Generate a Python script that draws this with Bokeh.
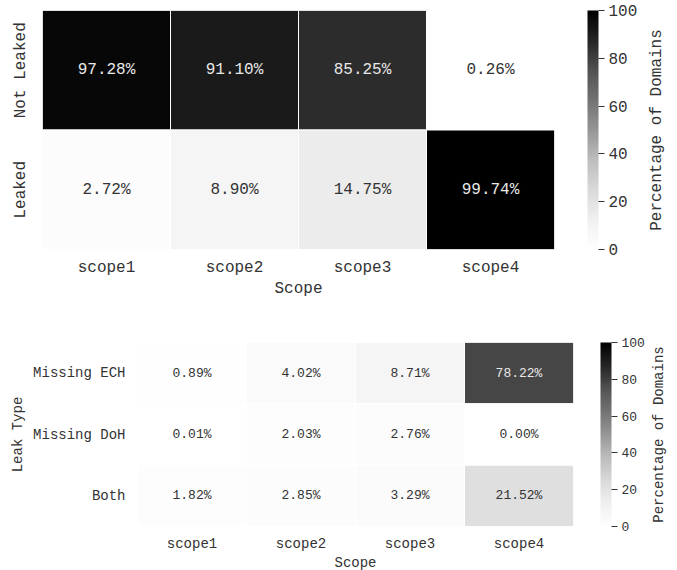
from bokeh.plotting import figure
from bokeh.models import (ColumnDataSource, LinearColorMapper, ColorBar,
                          FactorRange, FixedTicker, Range1d)
from bokeh.layouts import column, row
from bokeh.transform import transform
from bokeh.core.properties import value
from bokeh.embed import file_html
from bokeh.resources import INLINE

# ---------------- data ----------------
scopes = ["scope1", "scope2", "scope3", "scope4"]

top_rows = ["Not Leaked", "Leaked"]
not_leaked = [97.28, 91.10, 85.25, 0.26]
leaked = [2.72, 8.90, 14.75, 99.74]

bottom_rows = ["Missing ECH", "Missing DoH", "Both"]
missing_ech = [0.89, 4.02, 8.71, 78.22]
missing_doh = [0.01, 2.03, 2.76, 0.00]
both = [1.82, 2.85, 3.29, 21.52]

cbar_ticks = [0, 20, 40, 60, 80, 100]
cbar_title = "Percentage of Domains"
x_title = "Scope"
bottom_y_title = "Leak Type"

FONT = "Liberation Mono"
TXT = "#333333"

# matplotlib "Greys" colormap anchors (white -> black)
greys9 = ['#ffffff', '#f0f0f0', '#d9d9d9', '#bdbdbd', '#969696',
          '#737373', '#525252', '#252525', '#000000']


def interp_palette(anchors, n=256):
    rgb = [tuple(int(a[i:i + 2], 16) for i in (1, 3, 5)) for a in anchors]
    out = []
    m = len(rgb) - 1
    for k in range(n):
        t = k / (n - 1) * m
        i = min(int(t), m - 1)
        f = t - i
        c = [round(rgb[i][j] + (rgb[i + 1][j] - rgb[i][j]) * f) for j in range(3)]
        out.append("#%02x%02x%02x" % tuple(c))
    return out


palette = interp_palette(greys9)


def heatmap(rows, series, fw, fh, borders, fs_tick, fs_annot, fs_cbar,
            y_vertical, ylabel, cb_dx, y_std, x_std, xl_std, yl_std):
    xs, ys, vs, labels, tcs = [], [], [], [], []
    for r, vals in zip(rows, series):
        for s, v in zip(scopes, vals):
            xs.append(s)
            ys.append(r)
            vs.append(v)
            labels.append("%.2f%%" % v)
            tcs.append("#e8e8e8" if v > 50 else TXT)
    src = ColumnDataSource(dict(x=xs, y=ys, v=vs, label=labels, tc=tcs))
    mapper = LinearColorMapper(palette=palette, low=0, high=100)
    left, right, top, bottom = borders
    p = figure(x_range=FactorRange(*scopes), y_range=FactorRange(*reversed(rows)),
               frame_width=fw, frame_height=fh, output_backend="svg",
               toolbar_location=None,
               min_border_left=left, min_border_right=right,
               min_border_top=top, min_border_bottom=bottom)
    p.frame_align = False
    p.rect(x="x", y="y", width=1, height=1, source=src,
           fill_color=transform("v", mapper), line_color="white", line_width=1)
    p.text(x="x", y="y", text="label", text_color="tc", source=src,
           text_align="center", text_baseline="middle",
           text_font=value(FONT), text_font_size=fs_annot)
    p.grid.grid_line_color = None
    p.outline_line_color = None
    for ax in (p.xaxis, p.yaxis):
        ax.axis_line_color = None
        ax.major_tick_line_color = None
        ax.minor_tick_line_color = None
        ax.major_tick_out = 0
        ax.major_tick_in = 0
        ax.minor_tick_out = 0
        ax.minor_tick_in = 0
        ax.major_label_text_font = FONT
        ax.major_label_text_font_size = fs_tick
        ax.major_label_text_color = TXT
        ax.axis_label_text_font = FONT
        ax.axis_label_text_font_size = fs_tick
        ax.axis_label_text_font_style = "normal"
        ax.axis_label_text_color = TXT
    p.xaxis.axis_label = x_title
    p.xaxis.major_label_standoff = x_std
    p.xaxis.axis_label_standoff = xl_std
    p.yaxis.major_label_standoff = y_std
    if y_vertical:
        p.yaxis.major_label_orientation = "vertical"
    if ylabel:
        p.yaxis.axis_label = ylabel
        p.yaxis.axis_label_standoff = yl_std

    cb = ColorBar(color_mapper=mapper, ticker=FixedTicker(ticks=cbar_ticks),
                  width=11, major_tick_in=0, major_tick_out=6,
                  major_tick_line_color=TXT, bar_line_color=None,
                  major_label_text_font=FONT, major_label_text_font_size=fs_cbar,
                  major_label_text_color=TXT, label_standoff=4,
                  padding=0, margin=0, location=(cb_dx, 0),
                  background_fill_color=None, border_line_color=None)
    p.add_layout(cb, "right")
    return p


def title_fig(fh, top, bottom, left, fs):
    t = figure(x_range=Range1d(0, 1), y_range=Range1d(0, 1),
               frame_width=1, frame_height=fh, output_backend="svg",
               toolbar_location=None, x_axis_location=None,
               min_border_left=left, min_border_right=0,
               min_border_top=top, min_border_bottom=bottom)
    t.frame_align = False
    t.grid.visible = False
    t.outline_line_color = None
    ax = t.yaxis[0]
    ax.ticker = FixedTicker(ticks=[])
    ax.axis_line_color = None
    ax.major_tick_line_color = None
    ax.minor_tick_line_color = None
    ax.major_tick_out = 0
    ax.major_tick_in = 0
    ax.minor_tick_out = 0
    ax.minor_tick_in = 0
    ax.major_label_standoff = 0
    ax.axis_label = cbar_title
    ax.axis_label_standoff = 0
    ax.axis_label_text_font = FONT
    ax.axis_label_text_font_size = fs
    ax.axis_label_text_font_style = "normal"
    ax.axis_label_text_color = TXT
    return t


p1 = heatmap(top_rows, [not_leaked, leaked], 512, 239, (42, 90, 10, 51),
             "16px", "16px", "16px", True, None, 33, 13, 9, 0, 0)
t1 = title_fig(239, 10, 51, 21, "16px")

p2 = heatmap(bottom_rows, [missing_ech, missing_doh, both], 436, 184, (137, 74, 42, 44),
             "14px", "13px", "13px", False, bottom_y_title, 27, 12, 9, 0, 4)
t2 = title_fig(184, 42, 44, 18, "14px")

layout = column(row(p1, t1, spacing=0), row(p2, t2, spacing=0), spacing=0)
open("out.html", "w").write(file_html(layout, INLINE))
